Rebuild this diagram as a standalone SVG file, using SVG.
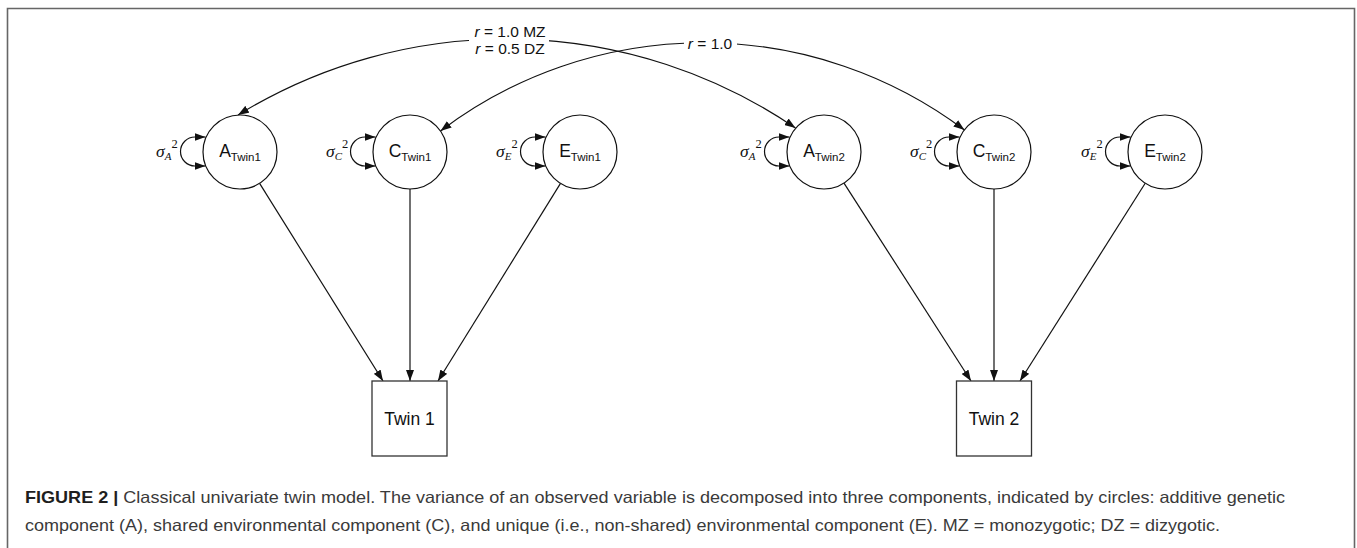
<svg xmlns="http://www.w3.org/2000/svg" width="1357" height="548" viewBox="0 0 1357 548">
<style>
.node{fill:#fff;stroke:#111;stroke-width:1.2}
.box{fill:#fff;stroke:#333;stroke-width:1.3}
.edge{fill:none;stroke:#111;stroke-width:1.2}
.lbl{font-family:"Liberation Sans",Arial,sans-serif;fill:#111}
.big{font-size:17.5px}
.sub{font-size:11.5px}
.rlab{font-family:"Liberation Sans",Arial,sans-serif;font-size:15.5px;fill:#111;text-anchor:middle}
.sig{font-family:"Liberation Serif","Times New Roman",serif;fill:#111}
.cap{font-family:"Liberation Sans",Arial,sans-serif;font-size:16.5px;fill:#3a3a3a}
.capb{font-weight:bold;fill:#1e1e1e}
</style>
<defs>
<marker id="ah" viewBox="0 0 11 8" refX="11" refY="4" markerWidth="11" markerHeight="8" markerUnits="userSpaceOnUse" orient="auto-start-reverse">
<path d="M0,0 L11,4 L0,8 z" fill="#111"/>
</marker>
</defs>
<rect x="0" y="0" width="1357" height="548" fill="#fff"/>
<path d="M7.5,560 V8.5 H1354.5 V560" fill="none" stroke="#666" stroke-width="1.6"/>

<g id="connectors">
<path class="edge" d="M238,115 A513,513 0 0 1 795.5,128" marker-start="url(#ah)" marker-end="url(#ah)"/>
<path class="edge" d="M440.5,131 A435,435 0 0 1 964.5,130" marker-start="url(#ah)" marker-end="url(#ah)"/>
<rect x="469" y="24" width="80" height="36" fill="#fff"/>
<rect x="684" y="34" width="53" height="20" fill="#fff"/>
<text class="rlab" x="510" y="37"><tspan font-style="italic">r</tspan> = 1.0 MZ</text>
<text class="rlab" x="510" y="54"><tspan font-style="italic">r</tspan> = 0.5 DZ</text>
<text class="rlab" x="710" y="49"><tspan font-style="italic">r</tspan> = 1.0</text>

<line class="edge" x1="259.6" y1="183.4" x2="383" y2="381" marker-end="url(#ah)"/>
<line class="edge" x1="410" y1="189" x2="410" y2="381" marker-end="url(#ah)"/>
<line class="edge" x1="560.5" y1="183.4" x2="438" y2="381" marker-end="url(#ah)"/>
<line class="edge" x1="844" y1="183.1" x2="971" y2="381" marker-end="url(#ah)"/>
<line class="edge" x1="994" y1="189" x2="994" y2="381" marker-end="url(#ah)"/>
<line class="edge" x1="1145.2" y1="183.3" x2="1020" y2="381" marker-end="url(#ah)"/>

<path class="edge" d="M205.5,137 L195,137 A14.5,14.5 0 0 0 195,166 L205.5,166" marker-start="url(#ah)" marker-end="url(#ah)"/>
<path class="edge" d="M375.5,137 L365,137 A14.5,14.5 0 0 0 365,166 L375.5,166" marker-start="url(#ah)" marker-end="url(#ah)"/>
<path class="edge" d="M545.5,137 L535,137 A14.5,14.5 0 0 0 535,166 L545.5,166" marker-start="url(#ah)" marker-end="url(#ah)"/>
<path class="edge" d="M789.5,137 L779,137 A14.5,14.5 0 0 0 779,166 L789.5,166" marker-start="url(#ah)" marker-end="url(#ah)"/>
<path class="edge" d="M959.5,137 L949,137 A14.5,14.5 0 0 0 949,166 L959.5,166" marker-start="url(#ah)" marker-end="url(#ah)"/>
<path class="edge" d="M1130.5,137 L1120,137 A14.5,14.5 0 0 0 1120,166 L1130.5,166" marker-start="url(#ah)" marker-end="url(#ah)"/>

<text class="sig" x="156" y="157"><tspan font-size="17.5" font-style="italic">σ</tspan><tspan font-size="11" font-style="italic" dy="3">A</tspan><tspan font-size="12.5" dy="-12">2</tspan></text>
<text class="sig" x="326" y="157"><tspan font-size="17.5" font-style="italic">σ</tspan><tspan font-size="11" font-style="italic" dy="3">C</tspan><tspan font-size="12.5" dy="-12">2</tspan></text>
<text class="sig" x="496" y="157"><tspan font-size="17.5" font-style="italic">σ</tspan><tspan font-size="11" font-style="italic" dy="3">E</tspan><tspan font-size="12.5" dy="-12">2</tspan></text>
<text class="sig" x="740" y="157"><tspan font-size="17.5" font-style="italic">σ</tspan><tspan font-size="11" font-style="italic" dy="3">A</tspan><tspan font-size="12.5" dy="-12">2</tspan></text>
<text class="sig" x="910" y="157"><tspan font-size="17.5" font-style="italic">σ</tspan><tspan font-size="11" font-style="italic" dy="3">C</tspan><tspan font-size="12.5" dy="-12">2</tspan></text>
<text class="sig" x="1081" y="157"><tspan font-size="17.5" font-style="italic">σ</tspan><tspan font-size="11" font-style="italic" dy="3">E</tspan><tspan font-size="12.5" dy="-12">2</tspan></text>
</g>

<g id="A_Twin1"><circle class="node" cx="240" cy="152" r="37"/><text class="lbl" x="240" y="157" text-anchor="middle"><tspan class="big">A</tspan><tspan class="sub" dy="4">Twin1</tspan></text></g>
<g id="C_Twin1"><circle class="node" cx="410" cy="152" r="37"/><text class="lbl" x="410" y="157" text-anchor="middle"><tspan class="big">C</tspan><tspan class="sub" dy="4">Twin1</tspan></text></g>
<g id="E_Twin1"><circle class="node" cx="580" cy="152" r="37"/><text class="lbl" x="580" y="157" text-anchor="middle"><tspan class="big">E</tspan><tspan class="sub" dy="4">Twin1</tspan></text></g>
<g id="A_Twin2"><circle class="node" cx="824" cy="152" r="37"/><text class="lbl" x="824" y="157" text-anchor="middle"><tspan class="big">A</tspan><tspan class="sub" dy="4">Twin2</tspan></text></g>
<g id="C_Twin2"><circle class="node" cx="994" cy="152" r="37"/><text class="lbl" x="994" y="157" text-anchor="middle"><tspan class="big">C</tspan><tspan class="sub" dy="4">Twin2</tspan></text></g>
<g id="E_Twin2"><circle class="node" cx="1165" cy="152" r="37"/><text class="lbl" x="1165" y="157" text-anchor="middle"><tspan class="big">E</tspan><tspan class="sub" dy="4">Twin2</tspan></text></g>

<g id="Twin1"><rect class="box" x="372" y="381" width="75" height="75"/><text class="lbl big" x="409.5" y="425" text-anchor="middle">Twin 1</text></g>
<g id="Twin2"><rect class="box" x="956.5" y="381" width="75" height="75"/><text class="lbl big" x="994" y="425" text-anchor="middle">Twin 2</text></g>

<g id="caption">
<text class="cap" x="25" y="503" textLength="1260" lengthAdjust="spacingAndGlyphs"><tspan class="capb">FIGURE 2 |</tspan> Classical univariate twin model. The variance of an observed variable is decomposed into three components, indicated by circles: additive genetic</text>
<text class="cap" x="25" y="531" textLength="1195" lengthAdjust="spacingAndGlyphs">component (A), shared environmental component (C), and unique (i.e., non-shared) environmental component (E). MZ = monozygotic; DZ = dizygotic.</text>
</g>
</svg>
